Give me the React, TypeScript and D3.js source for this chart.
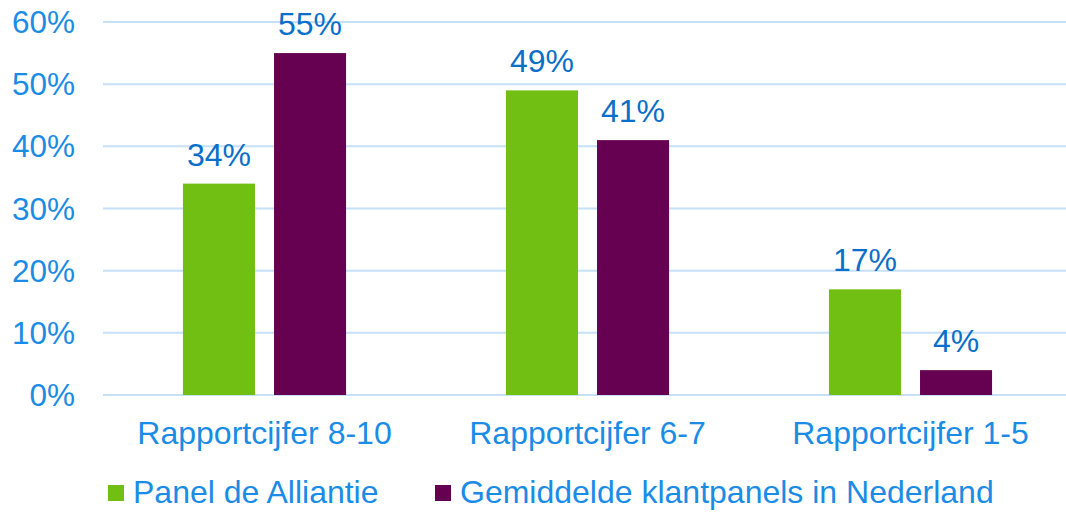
import * as d3 from "d3";

const categories = ["Rapportcijfer 8-10", "Rapportcijfer 6-7", "Rapportcijfer 1-5"];
const seriesNames = ["Panel de Alliantie", "Gemiddelde klantpanels in Nederland"];
const panelValues = [34, 49, 17];
const averageValues = [55, 41, 4];
const yTicks = [0, 10, 20, 30, 40, 50, 60];

const colors = ["#70BF12", "#660050"];
const W = 1066;
const H = 513;
const plot = { left: 103, right: 1072, top: 22, bottom: 395 };

export default function App() {
  const x = d3
    .scaleBand<string>()
    .domain(categories)
    .range([plot.left, plot.right])
    .paddingInner(0)
    .paddingOuter(0);
  const step = x.bandwidth();
  const barW = step * 0.223;
  const gap = step * 0.059;

  const y = d3.scaleLinear().domain([0, 60]).range([plot.bottom, plot.top]);

  const series = [panelValues, averageValues];
  const sub = d3
    .scaleOrdinal<number, number>()
    .domain([0, 1])
    .range([-gap / 2 - barW, gap / 2]);

  return (
    <svg
      width={W}
      height={H}
      style={{ position: "absolute", left: 0, top: 0, fontFamily: "Liberation Sans, Arial, sans-serif" }}
    >
      {yTicks.map((t) => (
        <g key={t}>
          <line x1={plot.left} x2={W} y1={y(t)} y2={y(t)} stroke="#C5E0F7" strokeWidth={2} />
          <text x={75} y={y(t) + 11} textAnchor="end" fontSize={31.5} fill="#1A8CE6">
            {t}%
          </text>
        </g>
      ))}
      {series.map((vals, si) =>
        vals.map((v, i) => {
          const cx = x(categories[i])! + step / 2;
          const bx = cx + sub(si);
          return (
            <g key={`${si}-${i}`}>
              <rect x={bx} y={y(v)} width={barW} height={y(0) - y(v)} fill={colors[si]} />
              <text x={bx + barW / 2} y={y(v) - 18} textAnchor="middle" fontSize={32} fill="#0A6FC8">
                {v}%
              </text>
            </g>
          );
        })
      )}
      {categories.map((c) => (
        <text
          key={c}
          x={x(c)! + step / 2}
          y={444}
          textAnchor="middle"
          fontSize={32}
          fill="#1A8CE6"
        >
          {c}
        </text>
      ))}
      {seriesNames.map((n, i) => {
        const lx = [108, 435][i];
        return (
          <g key={n}>
            <rect x={lx} y={485} width={16} height={16} fill={colors[i]} />
            <text x={lx + 25} y={503} fontSize={32} fill="#1A8CE6">
              {n}
            </text>
          </g>
        );
      })}
    </svg>
  );
}
